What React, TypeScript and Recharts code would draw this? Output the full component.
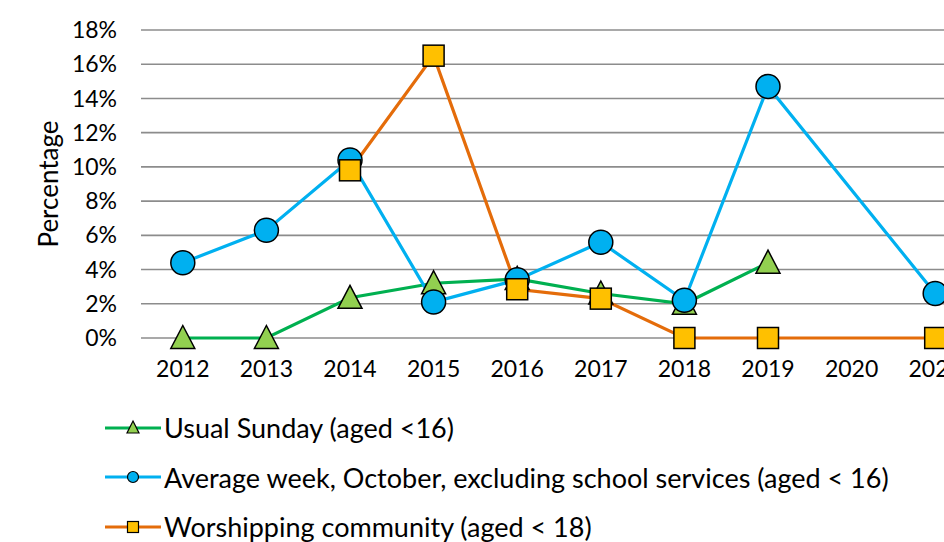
import { CartesianGrid, Legend, Line, LineChart, XAxis, YAxis } from 'recharts'

const years = ['2012', '2013', '2014', '2015', '2016', '2017', '2018', '2019', '2020', '2021']
const usualSunday = [0, 0, 2.35, 3.2, 3.45, 2.6, 2.0, 4.4, null, null]
const averageWeek = [4.4, 6.3, 10.4, 2.1, 3.4, 5.6, 2.2, 14.7, null, 2.6]
const worshipping = [null, null, 9.8, 16.5, 2.85, 2.3, 0, 0, null, 0]
const yTicks = [0, 2, 4, 6, 8, 10, 12, 14, 16, 18]

const seriesNames = [
  'Usual Sunday (aged <16)',
  'Average week, October, excluding school services (aged < 16)',
  'Worshipping community (aged < 18)',
]

const data = years.map((year, i) => ({
  year,
  sunday: usualSunday[i],
  week: averageWeek[i],
  community: worshipping[i],
}))

const fontFamily = 'Lato, "Open Sans", sans-serif'

const GREEN = '#00b050'
const GREEN_FILL = '#92d050'
const BLUE = '#00b0f0'
const ORANGE = '#e46c0a'
const GOLD = '#ffc000'

type DotProps = { cx?: number | null; cy?: number | null; index?: number }

const triangleDot = ({ cx, cy, index }: DotProps) => {
  if (cx == null || cy == null) return <g key={`t${index}`} />
  const w = 12
  const h = 21
  return (
    <polygon
      key={`t${index}`}
      points={`${cx},${cy - h / 2 - 2} ${cx + w},${cy + h / 2} ${cx - w},${cy + h / 2}`}
      fill={GREEN_FILL}
      stroke="#000"
      strokeWidth={1.5}
    />
  )
}

const circleDot = ({ cx, cy, index }: DotProps) => {
  if (cx == null || cy == null) return <g key={`c${index}`} />
  return <circle key={`c${index}`} cx={cx} cy={cy} r={12} fill={BLUE} stroke="#000" strokeWidth={1.5} />
}

const squareDot = ({ cx, cy, index }: DotProps) => {
  if (cx == null || cy == null) return <g key={`s${index}`} />
  const s = 21
  return (
    <rect key={`s${index}`} x={cx - s / 2} y={cy - s / 2} width={s} height={s} fill={GOLD} stroke="#000" strokeWidth={1.5} />
  )
}

const LegendIcon = ({ kind }: { kind: number }) => {
  const color = [GREEN, BLUE, ORANGE][kind]
  return (
    <svg width={58} height={20} style={{ display: 'block' }}>
      <line x1={1} y1={10} x2={57} y2={10} stroke={color} strokeWidth={3} />
      {kind === 0 && <polygon points="29,3 35,15 23,15" fill={GREEN_FILL} stroke="#000" strokeWidth={1.2} />}
      {kind === 1 && <circle cx={29} cy={10} r={5.5} fill={BLUE} stroke="#000" strokeWidth={1.2} />}
      {kind === 2 && <rect x={23.5} y={4.5} width={11} height={11} fill={GOLD} stroke="#000" strokeWidth={1.2} />}
    </svg>
  )
}

const renderLegend = () => (
  <div style={{ height: 150, paddingLeft: 104, paddingTop: 11, boxSizing: 'border-box' }}>
    {seriesNames.map((name, i) => (
      <div key={name} style={{ display: 'flex', alignItems: 'center', height: 49.5 }}>
        <LegendIcon kind={i} />
        <span style={{ fontFamily, fontSize: 27, color: '#000', marginLeft: 2, whiteSpace: 'nowrap' }}>{name}</span>
      </div>
    ))}
  </div>
)

const renderYLabel = (props: any) => {
  const vb = props.viewBox || {}
  const x = 48
  const y = (vb.y ?? 30) + (vb.height ?? 308) / 2
  return (
    <text
      x={x}
      y={y}
      transform={`rotate(-90, ${x}, ${y})`}
      textAnchor="middle"
      dominantBaseline="central"
      fontFamily={fontFamily}
      fontSize={26}
      fill="#000"
    >
      Percentage
    </text>
  )
}

export default function App() {
  return (
    <div
      style={{
        position: 'fixed',
        left: 0,
        top: 0,
        width: 944,
        height: 542,
        overflow: 'hidden',
        background: '#fff',
      }}
    >
      <LineChart width={1000} height={542} data={data} margin={{ top: 30, right: 23, bottom: 0, left: 0 }}>
        <CartesianGrid vertical={false} stroke="#8c8c8c" strokeWidth={1.6} />
        <XAxis
          dataKey="year"
          scale="band"
          axisLine={false}
          tickLine={false}
          tickSize={0}
          tickMargin={23}
          height={54}
          interval={0}
          tick={{ fill: '#000', fontSize: 23, fontFamily }}
        />
        <YAxis
          domain={[0, 18]}
          ticks={yTicks}
          width={141}
          axisLine={false}
          tickLine={false}
          tickSize={0}
          tickMargin={24}
          tickFormatter={(v: number) => `${v}%`}
          tick={{ fill: '#000', fontSize: 23, fontFamily }}
          label={renderYLabel}
        />
        <Legend verticalAlign="bottom" content={renderLegend} />
        <Line
          dataKey="sunday"
          name={seriesNames[0]}
          stroke={GREEN}
          strokeWidth={3.2}
          dot={triangleDot}
          connectNulls
          isAnimationActive={false}
        />
        <Line
          dataKey="week"
          name={seriesNames[1]}
          stroke={BLUE}
          strokeWidth={3.2}
          dot={circleDot}
          connectNulls
          isAnimationActive={false}
        />
        <Line
          dataKey="community"
          name={seriesNames[2]}
          stroke={ORANGE}
          strokeWidth={3.2}
          dot={squareDot}
          connectNulls
          isAnimationActive={false}
        />
      </LineChart>
    </div>
  )
}
